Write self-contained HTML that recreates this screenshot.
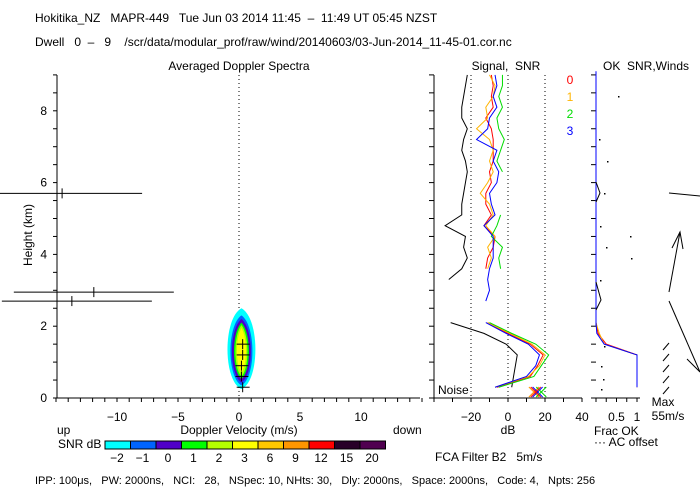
<!DOCTYPE html>
<html><head><meta charset="utf-8"><style>
body{margin:0;background:#fff;}
svg{display:block;font-family:"Liberation Sans",sans-serif;font-size:12px;}
text{white-space:pre;}
</style></head><body>
<svg id="c" width="700" height="500" xmlns="http://www.w3.org/2000/svg" xml:space="preserve">
<g id="g"></g>
</svg>
<script>
// ---- data ----
const heights = [0.3,0.6,0.9,1.2,1.5,1.8,2.1,2.4,2.7,3.0,3.3,3.6,3.9,4.2,4.5,4.8,5.1,5.4,5.7,6.0,6.3,6.6,6.9,7.2,7.5,7.8,8.1,8.4,8.7,9.0];
const noiseDb  = [2,3,4,5,-1,-13,-31,null,null,null,-32,-25,-22,-24,-23,-34,-25,-25,-24,-23,-22,-23,-25,-24,-22,-25,-25,-24,-23,-22];
const snr0 = [-6,12,16,19,12,0,-11,null,null,null,null,-12,-11,-8,-7,-13,-9,-12,-12,-9,-10,-8,-8,-8,-9,-12,-8,-9,-8,-9];
const snr1 = [-7,11,17,20,13,1,-11,null,null,null,null,-11,-9,-11,-7,-12,-8,-10,-15,-11,-8,-10,-8,-10,-17,-11,-12,-8,-7,-10];
const snr2 = [-5,14,18,22,15,2,-10,null,null,null,null,-4,-5,-3,-9,-6,-4,null,-5,null,-3,-6,-4,-2,-5,-6,-3,-5,-3,-3];
const snr3 = [-7,10,15,17,11,-1,-12,null,-12,-10,-11,-10,-8,-8,-8,-13,-7,-9,-10,-6,-5,-8,-6,-17,-11,-10,-6,-8,-6,-7];
const okFrac0 = [1,1,1,1,0.25,0.05,0,0,0,0,0,0,0,0,0,0,0,0,0,0,0,0,0,0,0,0,0,0,0,0];
const okFrac1 = [1,1,1,1,0.2,0.08,0,0,0,0,0,0,0,0,0,0,0,0,0,0,0,0,0,0,0,0,0,0,0,0];
const okFrac3 = [1,1,1,1,0.2,0.02,0,0,0,0,0,0,0,0,0,0,0,0,0,0,0,0,0,0,0,0,0,0,0,0];
const spectraH = [0.3,0.6,0.9,1.2,1.5];
const spectraV = [0.3,0.2,0.2,0.3,0.3];
const farH = [2.7,2.95,5.7];
const farV = [-13.7,-11.9,-14.5];
const xTicks = [-10,-5,0,5,10];
const yTicks = [0,2,4,6,8];
const dbTicks = [-20,0,20,40];
const cbColors = ["#00ffff","#0064ff","#5000c8","#00ff00","#b4ff00","#ffff00","#ffc800","#ff9600","#ff0000","#280028","#500050"];
const cbLabels = ["−2","−1","0","1","2","3","6","9","12","15","20"];
// ---- scales ----
const Y = h => 398 - h*35.9;
const X = v => 239 + v*12.2;
const XD = d => 508 + d*1.85;
const XF = f => 596 + f*41;
const NS="http://www.w3.org/2000/svg";
const G=document.getElementById('g');
function el(tag,attrs,parent){const e=document.createElementNS(NS,tag);for(const k in attrs)e.setAttribute(k,attrs[k]);(parent||G).appendChild(e);return e;}
function txt(x,y,s,anchor,fill){const t=el('text',{x:x,y:y,'text-anchor':anchor||'start',fill:fill||'#000'});t.textContent=s;return t;}
function line(x1,y1,x2,y2,st){return el('line',{x1:x1,y1:y1,x2:x2,y2:y2,stroke:st||'#000','stroke-width':1});}
function poly(xs,vals,col,name){let segs=[],cur=[];vals.forEach((v,i)=>{if(v===null){if(cur.length)segs.push(cur);cur=[];}else cur.push(xs(v)+','+Y(heights[i]));});if(cur.length)segs.push(cur);
 segs.forEach(s=>{const p=el('polyline',{points:s.join(' '),fill:'none',stroke:col,'stroke-width':1});
 
 });}

let t;
t=txt(35,22,"Hokitika_NZ   MAPR-449   Tue Jun 03 2014 11:45  –  11:49 UT 05:45 NZST");


t=txt(35,46,"Dwell   0  –   9    /scr/data/modular_prof/raw/wind/20140603/03-Jun-2014_11-45-01.cor.nc");


t=txt(239,70,"Averaged Doppler Spectra","middle");


t=txt(506,70,"Signal,  SNR","middle");


t=txt(646,70,"OK  SNR,Winds","middle");



// main axes
line(57,75,57,398);line(57,398,420,398);
for(let h=0;h<=9;h+=0.5){line(53,Y(h),57,Y(h));line(429,Y(h),434,Y(h));}
for(let v=-15;v<=15;v++){line(X(v),398,X(v),402);}
yTicks.forEach(h=>{t=txt(47,Y(h)+4,String(h),'end');

});
xTicks.forEach(v=>{t=txt(X(v),421,v<0?'−'+(-v):String(v),'middle');

});
t=txt(0,0,"Height (km)","middle");t.setAttribute('transform','translate(32,235) rotate(-90)');


t=txt(239,434,"Doppler Velocity (m/s)","middle");


t=txt(57,434,"up");


t=txt(393,434,"down");


el('line',{x1:239,y1:75,x2:239,y2:398,stroke:'#000','stroke-dasharray':'1,3'});

// spectra blob
const blob=[["#00ffff",14,1.25,1.0],["#0064ff",11,1.05,0.9],["#5000c8",9.5,0.95,0.82],["#00ff00",7.5,0.85,0.72],["#b4ff00",6,0.78,0.65],["#ffff00",4.5,0.7,0.55]];
blob.forEach((b,i)=>{const cx=X(0.2);const top=Y(1.25+b[2]),bot=Y(1.25-b[3]);const w=b[1]*1.33;
 const p=el('path',{d:`M${cx},${top} C${cx+w},${top+10} ${cx+w},${bot-8} ${cx},${bot} C${cx-w},${bot-8} ${cx-w},${top+10} ${cx},${top}Z`,fill:b[0]});
 
 });
spectraH.forEach((h,i)=>{const y=Y(h);line(X(spectraV[i])-6,y,X(spectraV[i])+7,y);line(X(spectraV[i]),y-5,X(spectraV[i]),y+5);});
farH.forEach((h,i)=>{const y=Y(h);const x=X(farV[i]);const l=line(x-(i==1?80:70),y,x+80,y);line(x,y-5,x,y+5);
 
 });

// colorbar
t=txt(58,448,"SNR dB");


cbColors.forEach((c,i)=>{const r=el('rect',{x:105+i*25.5,y:441,width:25.5,height:8,fill:c,stroke:'#000','stroke-width':1});


t=txt(117+i*25.5,462,cbLabels[i],'middle');

});

// signal panel
line(434,75,434,398);line(434,398,582,398);
for(let d=-40;d<=40;d+=10)line(XD(d),398,XD(d),402);
dbTicks.forEach(d=>{t=txt(XD(d),421,d<0?'−'+(-d):String(d),'middle');

});
[-20,0,20].forEach(d=>el('line',{x1:XD(d),y1:75,x2:XD(d),y2:398,stroke:'#000','stroke-dasharray':'1,3'}));
t=txt(508,434,"dB","middle");


poly(XD,noiseDb,'#000','noise-line');
poly(XD,snr0,'#ff0000','snr-beam-0');
poly(XD,snr1,'#ffb400','snr-beam-1');
poly(XD,snr2,'#00dc00','snr-beam-2');
poly(XD,snr3,'#0000ff','snr-beam-3');
t=txt(438,394,"Noise");


[['#ff9600',14],['#0000ff',16],['#00dc00',18],['#ff0000',15]].forEach(m=>{const x=XD(m[1]),y=392;line(x-5,y-5,x+5,y+5,m[0]);line(x-5,y+5,x+5,y-5,m[0]);});
[['0','#ff0000'],['1','#ffb400'],['2','#00dc00'],['3','#0000ff']].forEach((l,i)=>{t=txt(570,84+i*17,l[0],'middle',l[1]);

});
t=txt(435,461,"FCA Filter B2   5m/s");



// OK panel
line(596,398,640,398);
for(let h=0;h<=9;h+=0.5){line(591,Y(h),596,Y(h));}
for(let f=0;f<=1.001;f+=0.25)line(XF(f),398,XF(f),402);
t=txt(XF(0.5),421,"0.5","middle");t=txt(XF(1),421,"1","middle");
poly(XF,okFrac0,'#ff0000','ok-frac-0');
poly(XF,okFrac1,'#ffb400','ok-frac-1');
poly(XF,okFrac3,'#0000ff','ok-frac-3');
line(596,Y(9.1),596,Y(2),'#0000ff');
el('polyline',{points:"596,182 600,193 596,202",fill:'none',stroke:'#000'});
el('polyline',{points:"596,282 601,300 596,310",fill:'none',stroke:'#000'});
[[618,96],[599,139],[607,161],[604,193],[600,226],[630,236],[606,247],[631,258],[600,280],[604,346],[601,366],[603,379],[601,389]].forEach(p=>el('rect',{x:p[0],y:p[1],width:1.5,height:1.5,fill:'#000'}));
t=txt(594,435,"Frac OK");


t=txt(594,446,"··· AC offset");


// winds
line(669,193,700,196);line(669,292,680,232);
el('polyline',{points:"672,248 680,232 683,249",fill:'none',stroke:'#000'});
line(669,301,700,372);line(687,359,700,372);
[346,357,368,379,390].forEach(y=>line(663,y+4,669,y-3));
t=txt(663,406,"Max","middle");t=txt(668,420,"55m/s","middle");



t=txt(35,484,"IPP: 100μs,   PW: 2000ns,   NCI:   28,   NSpec: 10, NHts: 30,   Dly: 2000ns,   Space: 2000ns,   Code: 4,   Npts: 256");


t.setAttribute('font-size','11');
</script>
</body></html>
